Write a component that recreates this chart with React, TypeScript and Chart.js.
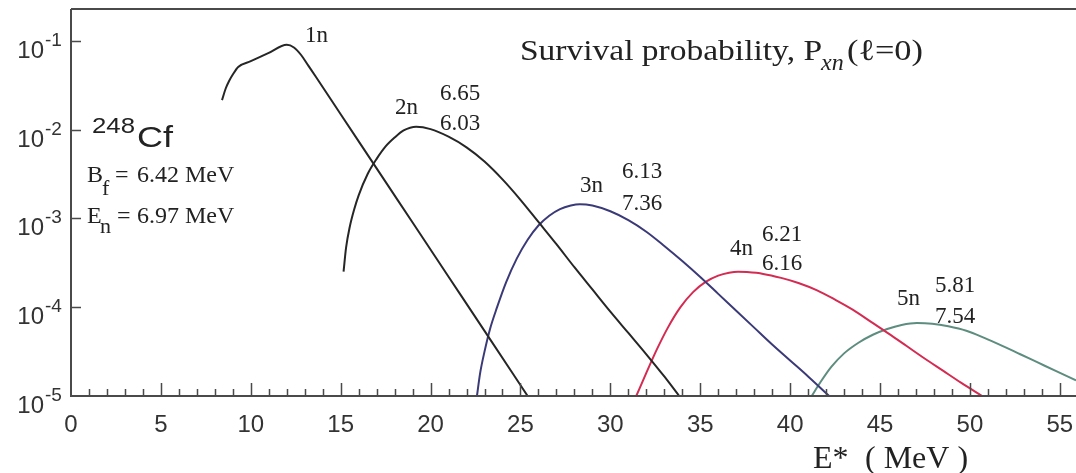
import React, { useEffect, useRef } from "react";
import { Chart, registerables } from "chart.js";

Chart.register(...registerables);

// ---- Data (excitation energy E* in MeV, survival probability P_xn) ----
const E_1n = [8.4, 8.6, 8.8, 9.0, 9.3, 10.0, 11.0, 12.0, 12.4, 12.8, 13.2, 13.6, 15, 17, 19, 21, 23, 25.4];
const P_1n = [0.02148, 0.02884, 0.03548, 0.04169, 0.0507, 0.05888, 0.07295, 0.09016, 0.08414, 0.06918, 0.05248, 0.03981, 0.01489, 3.656e-3, 8.974e-4, 2.203e-4, 5.408e-5, 1.0e-5];

const E_2n = [15.16, 15.3, 15.5, 15.75, 16.0, 16.5, 17.0, 17.5, 18.0, 18.5, 19.2, 20.0, 21, 22, 23, 24, 25, 26, 27, 28, 29, 30, 31, 32, 33, 33.83];
const P_2n = [2.51e-4, 4.68e-4, 7.94e-4, 1.26e-3, 1.82e-3, 3.16e-3, 4.68e-3, 6.46e-3, 8.13e-3, 9.77e-3, 1.076e-2, 1.012e-2, 8.32e-3, 6.31e-3, 4.37e-3, 2.75e-3, 1.62e-3, 9.12e-4, 5.13e-4, 2.82e-4, 1.585e-4, 8.91e-5, 5.13e-5, 2.95e-5, 1.66e-5, 1.0e-5];

const E_3n = [22.58, 22.75, 23.0, 23.3, 23.7, 24.2, 24.8, 25.4, 26.0, 26.6, 27.2, 27.8, 28.3, 29, 30, 31, 32, 33, 34, 35, 36, 37, 38, 39, 40, 41, 42.17];
const P_3n = [1.0e-5, 1.778e-5, 3.162e-5, 5.623e-5, 1.0e-4, 1.905e-4, 3.548e-4, 5.754e-4, 8.318e-4, 1.072e-3, 1.274e-3, 1.396e-3, 1.445e-3, 1.396e-3, 1.202e-3, 9.55e-4, 7.079e-4, 4.898e-4, 3.311e-4, 2.188e-4, 1.413e-4, 9.12e-5, 5.888e-5, 3.802e-5, 2.512e-5, 1.66e-5, 1.0e-5];

const E_4n = [31.44, 32.0, 32.6, 33.2, 33.9, 34.6, 35.3, 36.0, 36.6, 37.1, 37.6, 38.5, 39.5, 40.5, 41.5, 42.5, 43.5, 44.5, 45.5, 46.5, 47.5, 48.5, 49.5, 50.68];
const P_4n = [1.0e-5, 1.82e-5, 3.388e-5, 5.888e-5, 1.0e-4, 1.479e-4, 1.928e-4, 2.265e-4, 2.443e-4, 2.512e-4, 2.483e-4, 2.371e-4, 2.138e-4, 1.862e-4, 1.549e-4, 1.216e-4, 9.333e-5, 6.84e-5, 5.01e-5, 3.63e-5, 2.63e-5, 1.928e-5, 1.413e-5, 1.0e-5];

const E_5n = [41.2, 41.7, 42.3, 43.0, 43.8, 44.6, 45.4, 46.2, 47.05, 47.9, 48.8, 49.8, 50.8, 51.8, 52.8, 53.8, 54.8, 55.9, 57.0];
const P_5n = [1.0e-5, 1.445e-5, 2.138e-5, 3.02e-5, 3.981e-5, 4.898e-5, 5.689e-5, 6.31e-5, 6.637e-5, 6.516e-5, 6.095e-5, 5.433e-5, 4.519e-5, 3.673e-5, 2.951e-5, 2.371e-5, 1.905e-5, 1.496e-5, 1.175e-5];

const SERIES_NAMES = ["1n", "2n", "3n", "4n", "5n"];
const SERIES_COLORS = ["#262626", "#262626", "#3b3a78", "#d42b52", "#5d8d7f"];

const X_TICKS = [0, 5, 10, 15, 20, 25, 30, 35, 40, 45, 50, 55];
const Y_EXPONENTS = [-1, -2, -3, -4, -5];

// Curve annotations: channel name and the two numbers printed beside it
const CURVE_LABELS = [
  { name: "1n", a: "", b: "" },
  { name: "2n", a: "6.65", b: "6.03" },
  { name: "3n", a: "6.13", b: "7.36" },
  { name: "4n", a: "6.21", b: "6.16" },
  { name: "5n", a: "5.81", b: "7.54" },
];

const SERIF = "'Liberation Serif', 'Times New Roman', serif";
const SANS = "'Liberation Sans', Arial, sans-serif";

function txt(ctx: CanvasRenderingContext2D, s: string, x: number, y: number, font: string, align: CanvasTextAlign = "left", color = "#222") {
  ctx.font = font;
  ctx.textAlign = align;
  ctx.textBaseline = "alphabetic";
  ctx.fillStyle = color;
  ctx.fillText(s, x, y);
}

// draw text stretched horizontally to a given width
function stretch(ctx: CanvasRenderingContext2D, s: string, x: number, y: number, font: string, width: number, color = "#222") {
  ctx.font = font;
  const w0 = ctx.measureText(s).width;
  ctx.save();
  ctx.translate(x, y);
  ctx.scale(width / w0, 1);
  txt(ctx, s, 0, 0, font, "left", color);
  ctx.restore();
}

const overlay = {
  id: "overlay",
  afterDraw(chart: any) {
    const { ctx, chartArea: a } = chart;
    const xs = chart.scales.x;
    const ys = chart.scales.y;
    ctx.save();
    // frame
    ctx.strokeStyle = "#4a4a4a";
    ctx.lineWidth = 2;
    ctx.beginPath();
    ctx.moveTo(a.left, a.top);
    ctx.lineTo(a.right, a.top);
    ctx.moveTo(a.left, a.top);
    ctx.lineTo(a.left, a.bottom);
    ctx.lineTo(a.right, a.bottom);
    ctx.stroke();

    // x ticks (inward)
    ctx.lineWidth = 1.5;
    ctx.beginPath();
    for (let v = 1; v <= Math.floor(xs.max); v++) {
      const px = Math.round(xs.getPixelForValue(v)) + 0.5;
      const len = v % 5 === 0 ? 13 : 7;
      ctx.moveTo(px, a.bottom);
      ctx.lineTo(px, a.bottom - len);
    }
    // y ticks (inward)
    for (const e of Y_EXPONENTS) {
      if (e === -5) continue;
      const py = Math.round(ys.getPixelForValue(Math.pow(10, e))) + 0.5;
      ctx.moveTo(a.left, py);
      ctx.lineTo(a.left + 10, py);
    }
    ctx.stroke();

    // x tick labels
    for (const v of X_TICKS) {
      txt(ctx, String(v), xs.getPixelForValue(v), 432, `24px ${SANS}`, "center", "#333");
    }
    // y tick labels 10^e
    for (const e of Y_EXPONENTS) {
      const py = ys.getPixelForValue(Math.pow(10, e));
      txt(ctx, "10", 44, py + 17, `24px ${SANS}`, "right", "#333");
      txt(ctx, String(e), 45, py + 5, `19px ${SANS}`, "left", "#333");
    }

    // x axis title
    txt(ctx, "E*", 813, 468, `32px ${SERIF}`, "left", "#222");
    txt(ctx, "( MeV )", 865, 468, `32px ${SERIF}`, "left", "#222");

    // chart title
    stretch(ctx, "Survival probability, P", 520, 60, `30px ${SERIF}`, 302);
    txt(ctx, "xn", 821, 70, `italic 24px ${SERIF}`);
    stretch(ctx, "(\u2113=0)", 847, 60, `30px ${SERIF}`, 76);

    // nucleus annotation
    stretch(ctx, "248", 92, 133, `22px ${SANS}`, 43);
    stretch(ctx, "Cf", 137, 147, `30px ${SANS}`, 36);
    txt(ctx, "B", 87, 182, `24px ${SERIF}`);
    txt(ctx, "f", 102, 195, `22px ${SERIF}`);
    txt(ctx, "=", 115, 182, `24px ${SERIF}`);
    txt(ctx, "6.42 MeV", 137, 182, `24px ${SERIF}`);
    txt(ctx, "E", 87, 223, `24px ${SERIF}`);
    txt(ctx, "n", 100, 233, `22px ${SERIF}`);
    txt(ctx, "=", 117, 223, `24px ${SERIF}`);
    txt(ctx, "6.97 MeV", 137, 223, `24px ${SERIF}`);

    // curve labels
    const lf = `23px ${SERIF}`;
    const pos = [
      { n: [305, 42], a: [0, 0], b: [0, 0] },
      { n: [395, 114], a: [440, 100], b: [440, 130] },
      { n: [580, 192], a: [622, 178], b: [622, 210] },
      { n: [730, 255], a: [762, 241], b: [762, 270] },
      { n: [897, 305], a: [935, 292], b: [935, 323] },
    ];
    CURVE_LABELS.forEach((l, i) => {
      const p = pos[i];
      txt(ctx, l.name, p.n[0], p.n[1], lf);
      if (l.a) txt(ctx, l.a, p.a[0], p.a[1], lf);
      if (l.b) txt(ctx, l.b, p.b[0], p.b[1], lf);
    });
    ctx.restore();
  },
};

export default function App() {
  const ref = useRef<HTMLCanvasElement>(null);
  useEffect(() => {
    if (!ref.current) return;
    const series = [
      [E_1n, P_1n],
      [E_2n, P_2n],
      [E_3n, P_3n],
      [E_4n, P_4n],
      [E_5n, P_5n],
    ];
    const datasets = series.map(([E, P], i) => ({
      label: SERIES_NAMES[i],
      data: E.map((e, k) => ({ x: e, y: P[k] })),
      borderColor: SERIES_COLORS[i],
      borderWidth: 2,
      pointRadius: 0,
      fill: false,
      cubicInterpolationMode: "monotone" as const,
    }));
    const chart = new Chart(ref.current, {
      type: "line",
      data: { datasets },
      options: {
        animation: false,
        responsive: false,
        maintainAspectRatio: false,
        layout: { padding: { top: 9, left: 0, right: 0, bottom: 0 } },
        plugins: { legend: { display: false }, tooltip: { enabled: false } },
        scales: {
          x: {
            type: "linear",
            min: 0,
            max: 55.9,
            ticks: { display: false },
            grid: { display: false },
            border: { display: false },
            afterFit: (s: any) => {
              s.height = 77;
            },
          },
          y: {
            type: "logarithmic",
            min: 1e-5,
            max: 0.228,
            ticks: { display: false },
            grid: { display: false },
            border: { display: false },
            afterFit: (s: any) => {
              s.width = 71;
            },
          },
        },
      },
      plugins: [overlay],
    });
    return () => chart.destroy();
  }, []);
  return (
    <div style={{ position: "absolute", left: 0, top: 0, width: 1076, height: 473, background: "#fff" }}>
      <canvas ref={ref} width={1076} height={473} style={{ width: 1076, height: 473, display: "block" }} />
    </div>
  );
}
